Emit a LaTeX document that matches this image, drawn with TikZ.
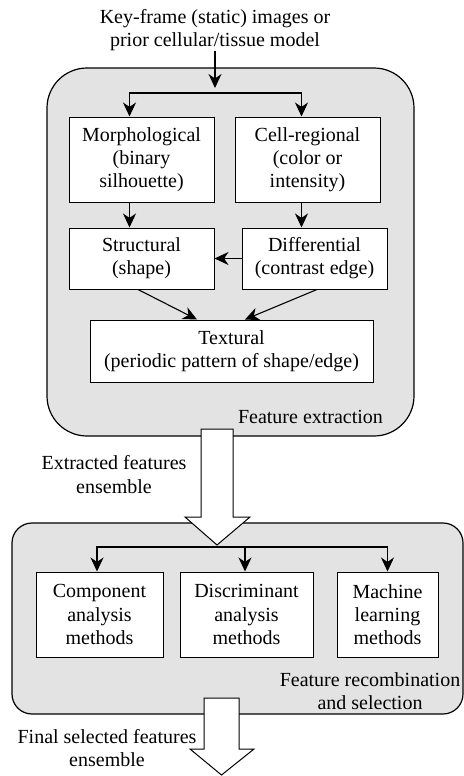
\documentclass[tikz,border=0pt]{standalone}
\usepackage{fontspec}
\setmainfont{Liberation Serif}
\usetikzlibrary{arrows.meta}

\tikzset{
  panel/.style={draw,line width=0.6pt,fill=gray!22,rounded corners=#1,inner sep=0pt},
  featbox/.style={draw,line width=0.5pt,fill=white,align=center,inner sep=0pt,
    font=\fontsize{10}{11.6}\selectfont},
  lbl/.style={align=center,inner sep=0pt,font=\fontsize{10}{11.6}\selectfont},
  link/.style={-{Stealth[length=7pt,width=6.5pt,inset=2.2pt]},line width=0.55pt},
  bigarrow/.style={draw,line width=0.5pt,fill=white}
}

\begin{document}
\begin{tikzpicture}[x=0.5pt,y=-0.5pt]
  \useasboundingbox (0,0) rectangle (464,776);
  % panels
  \node[panel=20pt,minimum width=183.5pt,minimum height=184pt] (extract) at (230.5,252) {};
  \node[panel=10pt,minimum width=225.5pt,minimum height=95.5pt] (recomb) at (237.5,618.5) {};
  % input text
  \node[lbl] (key) at (215,30) {Key-frame (static) images or\\prior cellular/tissue model};
  % feature extraction boxes
  \node[featbox,minimum width=72.5pt,minimum height=42.5pt] (morph) at (141.5,159.5)
    {Morphological\\(binary\\silhouette)};
  \node[featbox,minimum width=72.5pt,minimum height=42.5pt] (cell) at (307.5,159.5)
    {Cell-regional\\(color or\\intensity)};
  \node[featbox,minimum width=72.5pt,minimum height=30.5pt] (struct) at (141.5,258.5)
    {Structural\\(shape)};
  \node[featbox,minimum width=72.5pt,minimum height=30.5pt] (diff) at (314.5,258.5)
    {Differential\\(contrast edge)};
  \node[featbox,minimum width=141.5pt,minimum height=31pt] (tex) at (231.5,351)
    {Textural\\(periodic pattern of shape/edge)};
  \node[lbl] (extractlbl) at (310.5,417) {Feature extraction};
  % arrows in the first panel
  \coordinate (fork1) at (215,93);
  \draw[link] (key.south) -- ([yshift=2.5pt]fork1);
  \draw[link] (fork1) -| ([xshift=-6pt]morph.north);
  \draw[link] (fork1) -| ([xshift=-3pt]cell.north);
  \draw[link] ([xshift=-6pt]morph.south) -- ([xshift=-6pt]struct.north);
  \draw[link] ([xshift=-3pt]cell.south) -- ([xshift=-3pt]cell.south |- diff.north);
  \draw[link] (diff.west) -- (struct.east);
  \draw[link] ([xshift=-1.75pt]struct.south) -- ([xshift=-17.25pt]tex.north);
  \draw[link] ([xshift=1.25pt]diff.south) -- ([xshift=6.75pt]tex.north);
  % hollow arrow between the panels
  \draw[bigarrow] (201,429) -- (233,429) -- (233,517) -- (250,517) -- (217,545)
    -- (185,517) -- (201,517) -- cycle;
  \node[lbl] (extracted) at (114,474.5) {Extracted features\\ensemble};
  % recombination boxes
  \node[featbox,minimum width=63.5pt,minimum height=42.5pt] (comp) at (99.5,614.5)
    {Component\\analysis\\methods};
  \node[featbox,minimum width=66.5pt,minimum height=42.5pt] (disc) at (246.5,614.5)
    {Discriminant\\analysis\\methods};
  \node[featbox,minimum width=50.5pt,minimum height=42.5pt] (mach) at (387.5,614.5)
    {Machine\\learning\\methods};
  \node[lbl] (recomblbl) at (370,691) {Feature recombination\\and selection};
  \coordinate (fork2) at (245,547);
  \draw[link] (fork2) -| ([xshift=-1.25pt]comp.north);
  \draw[link] (fork2) -- ([xshift=-0.75pt]disc.north);
  \draw[link] (fork2) -| (mach.north);
  % output arrow
  \draw[bigarrow] (204,698) -- (239,698) -- (239,749) -- (254,749) -- (221.5,775)
    -- (190,749) -- (204,749) -- cycle;
  \node[lbl] (final) at (107,748) {Final selected features\\ensemble};
\end{tikzpicture}
\end{document}
